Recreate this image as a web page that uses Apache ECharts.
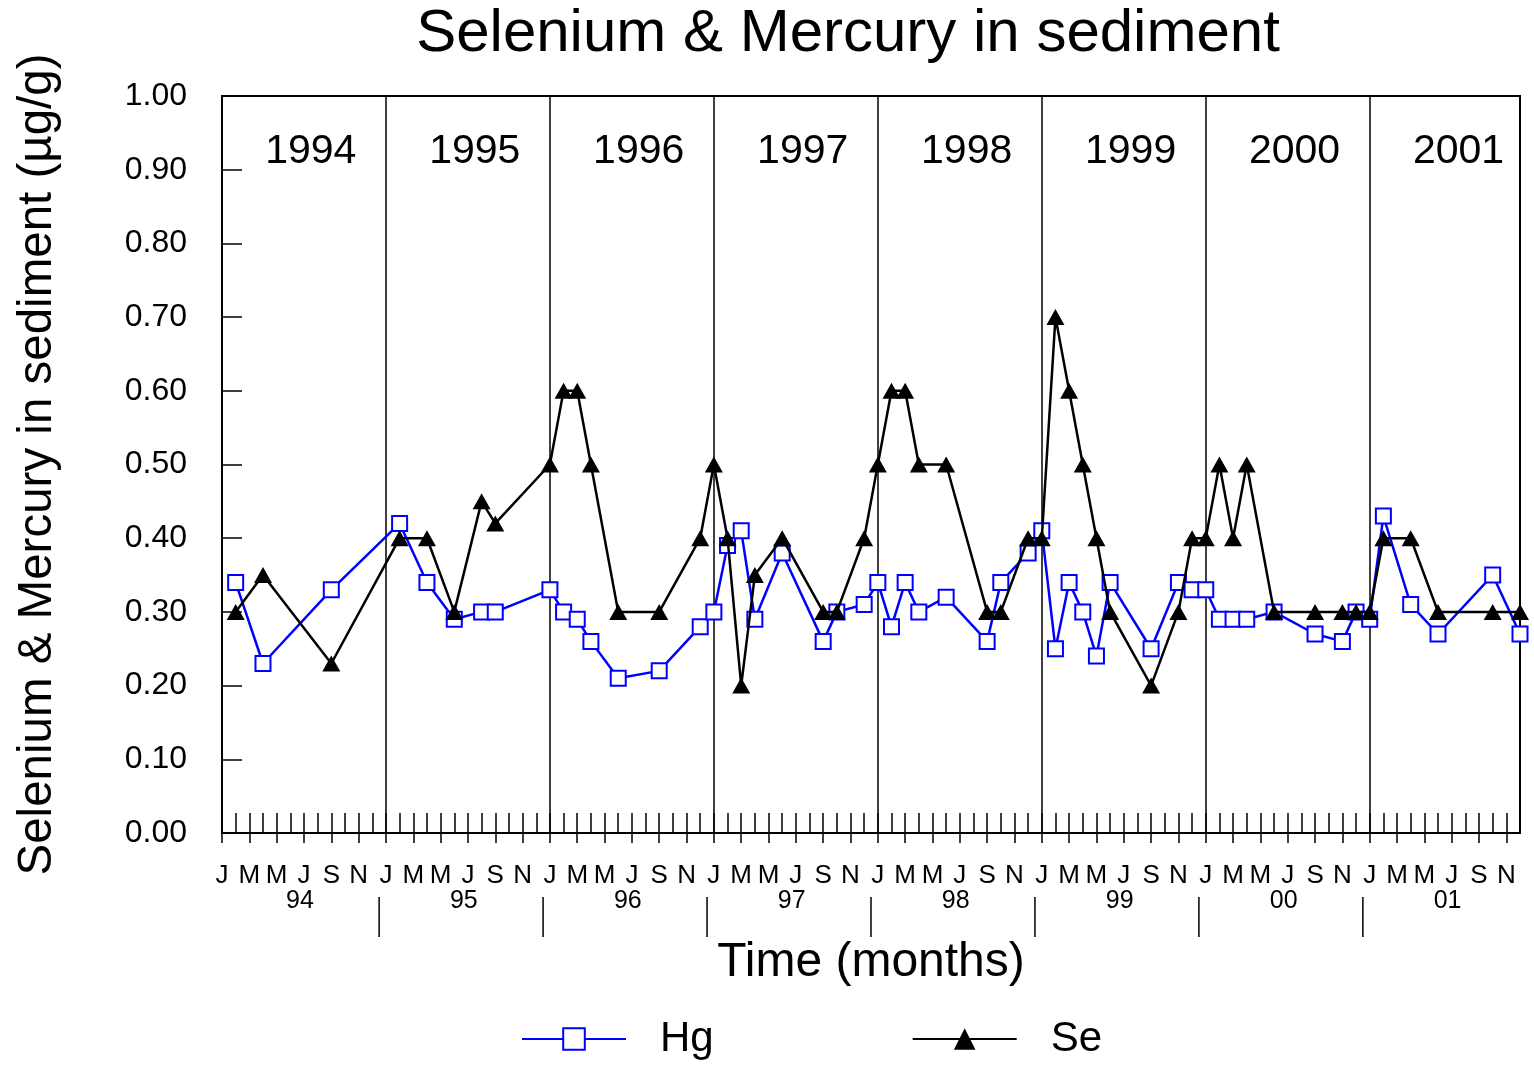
<!DOCTYPE html>
<html>
<head>
<meta charset="utf-8">
<title>Selenium &amp; Mercury in sediment</title>
<script src="https://cdn.jsdelivr.net/npm/echarts@6/dist/echarts.min.js"></script>
<style>
  html, body { margin: 0; padding: 0; background: #fff; }
  #chart { width: 1534px; height: 1070px; }
</style>
</head>
<body>
<div id="chart"></div>
<script>
// month index of each sample, 0 = Jan 1994 ... 95 = Dec 2001
const sampleMonths = [1, 3, 8, 13, 15, 17, 19, 20, 24, 25, 26, 27, 29, 32, 35,
  36, 37, 38, 39, 41, 44, 45, 47, 48, 49, 50, 51, 53, 56, 57, 59,
  60, 61, 62, 63, 64, 65, 68, 70, 71, 72, 73, 74, 75, 77, 80, 82, 83,
  84, 85, 87, 89, 93, 95];

const hgValues = [0.34, 0.23, 0.33, 0.42, 0.34, 0.29, 0.30, 0.30, 0.33, 0.30, 0.29, 0.26, 0.21, 0.22, 0.28,
  0.30, 0.39, 0.41, 0.29, 0.38, 0.26, 0.30, 0.31, 0.34, 0.28, 0.34, 0.30, 0.32, 0.26, 0.34, 0.38,
  0.41, 0.25, 0.34, 0.30, 0.24, 0.34, 0.25, 0.34, 0.33, 0.33, 0.29, 0.29, 0.29, 0.30, 0.27, 0.26, 0.30,
  0.29, 0.43, 0.31, 0.27, 0.35, 0.27];

const seValues = [0.30, 0.35, 0.23, 0.40, 0.40, 0.30, 0.45, 0.42, 0.50, 0.60, 0.60, 0.50, 0.30, 0.30, 0.40,
  0.50, 0.40, 0.20, 0.35, 0.40, 0.30, 0.30, 0.40, 0.50, 0.60, 0.60, 0.50, 0.50, 0.30, 0.30, 0.40,
  0.40, 0.70, 0.60, 0.50, 0.40, 0.30, 0.20, 0.30, 0.40, 0.40, 0.50, 0.40, 0.50, 0.30, 0.30, 0.30,
  0.30, 0.30, 0.40, 0.40, 0.30, 0.30, 0.30];

const years = ['1994', '1995', '1996', '1997', '1998', '1999', '2000', '2001'];
const monthLetters = ['J', 'F', 'M', 'A', 'M', 'J', 'J', 'A', 'S', 'O', 'N', 'D'];

const FONT = '"Liberation Sans", Arial, Helvetica, sans-serif';

// one category per month
const months = [];
years.forEach(y => monthLetters.forEach((m, i) => months.push(y + '-' + (i + 1))));

function toSeries(values) {
  const out = months.map(() => null);
  sampleMonths.forEach((m, i) => { out[m] = values[i]; });
  return out;
}

const black = { color: '#000', width: 1.5 };

const chart = echarts.init(document.getElementById('chart'));

const option = {
  animation: false,
  backgroundColor: '#fff',
  title: {
    text: 'Selenium & Mercury in sediment',
    left: 848,
    top: 4,
    padding: 0,
    textAlign: 'center',
    textStyle: { fontFamily: FONT, fontSize: 60, fontWeight: 'normal', color: '#000' }
  },
  legend: {
    left: 521,
    top: 1018,
    padding: 0,
    itemWidth: 104,
    itemHeight: 27,
    itemGap: 198,
    selectedMode: false,
    textStyle: { fontFamily: FONT, fontSize: 42, color: '#000', padding: [12, 0, 0, 29] },
    data: ['Hg', 'Se']
  },
  grid: {
    left: 222,
    right: 14,
    top: 96,
    bottom: 237,
    show: true,
    borderColor: '#000',
    borderWidth: 2
  },
  xAxis: [
    {
      type: 'category',
      data: months,
      boundaryGap: false,
      position: 'bottom',
      name: 'Time (months)',
      nameLocation: 'middle',
      nameGap: 106,
      nameTextStyle: { fontFamily: FONT, fontSize: 48, color: '#000' },
      axisLine: { show: true, lineStyle: { color: '#000', width: 2 } },
      axisTick: { show: true, inside: true, length: 20, interval: 0, lineStyle: black },
      axisLabel: { show: false },
      splitLine: { show: true, interval: (i) => i % 12 === 0, lineStyle: black }
    },
    {
      type: 'category',
      data: months,
      boundaryGap: false,
      position: 'bottom',
      offset: 0,
      axisLine: { show: false },
      axisTick: { show: true, inside: false, length: 10, interval: (i) => i % 2 === 0, lineStyle: black },
      axisLabel: {
        show: true,
        interval: (i) => i % 2 === 0,
        margin: 30,
        fontFamily: FONT,
        fontSize: 26,
        color: '#000',
        formatter: (v) => monthLetters[parseInt(v.split('-')[1], 10) - 1]
      },
      splitLine: { show: false }
    }
  ],
  yAxis: {
    type: 'value',
    min: 0,
    max: 1,
    interval: 0.1,
    name: 'Selenium & Mercury in sediment (\u00b5g/g)',
    nameLocation: 'middle',
    nameGap: 160,
    nameRotate: 90,
    nameTextStyle: { fontFamily: FONT, fontSize: 47.5, color: '#000' },
    axisLine: { show: true, lineStyle: { color: '#000', width: 2 } },
    axisTick: { show: true, inside: true, length: 20, lineStyle: black },
    axisLabel: {
      margin: 35,
      fontFamily: FONT,
      fontSize: 32,
      color: '#000',
      padding: [4, 0, 0, 0],
      formatter: (v) => v.toFixed(2)
    },
    splitLine: { show: false }
  },
  series: [
    {
      name: 'Hg',
      type: 'line',
      data: toSeries(hgValues),
      connectNulls: true,
      showAllSymbol: true,
      symbol: 'rect',
      symbolSize: 15,
      itemStyle: { color: '#fff', borderColor: '#0000ff', borderWidth: 2 },
      lineStyle: { color: '#0000ff', width: 2.5 },
      z: 2
    },
    {
      name: 'Se',
      type: 'line',
      data: toSeries(seValues),
      connectNulls: true,
      showAllSymbol: true,
      symbol: 'triangle',
      symbolSize: [18, 16],
      itemStyle: { color: '#000' },
      lineStyle: { color: '#000', width: 2.5 },
      z: 3
    }
  ]
};

chart.setOption(option);

// year labels and separators, placed through the axis scales
const x0 = chart.convertToPixel({ xAxisIndex: 0 }, 0);
const x1 = chart.convertToPixel({ xAxisIndex: 0 }, months.length - 1);
const step = (x1 - x0) / (months.length - 1);
const xAt = (m) => x0 + m * step;
const yBase = chart.convertToPixel({ yAxisIndex: 0 }, 0);
const yTop = chart.convertToPixel({ yAxisIndex: 0 }, 1);

const graphics = [];
years.forEach((y, k) => {
  graphics.push({
    type: 'text', x: xAt(12 * k + 6.5), y: yTop + 56, silent: true,
    style: { text: y, fill: '#000', fontFamily: FONT, fontSize: 41, align: 'center', verticalAlign: 'middle' }
  });
  graphics.push({
    type: 'text', x: xAt(12 * k + 5.7), y: yBase + 68, silent: true,
    style: { text: y.slice(2), fill: '#000', fontFamily: FONT, fontSize: 25, align: 'center', verticalAlign: 'middle' }
  });
  if (k < years.length - 1) {
    const xs = xAt(12 * k + 11.5);
    graphics.push({
      type: 'line', silent: true,
      shape: { x1: xs, y1: yBase + 64, x2: xs, y2: yBase + 104 },
      style: { stroke: '#000', lineWidth: 1.5 }
    });
  }
});

chart.setOption({ graphic: graphics });
</script>
</body>
</html>
